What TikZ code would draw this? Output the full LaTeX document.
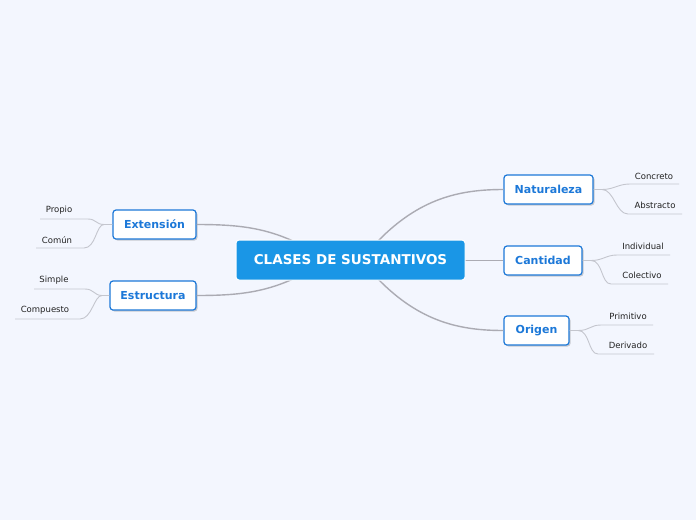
\documentclass[tikz,border=0pt]{standalone}
\usepackage{fontspec}
\setmainfont{DejaVu Sans}
\usetikzlibrary{calc}
\definecolor{bg}{HTML}{F3F6FE}
\definecolor{mainblue}{HTML}{1A96E6}
\definecolor{boxblue}{HTML}{1C78D8}
\definecolor{conn}{HTML}{ABABB3}
\definecolor{leafline}{HTML}{C4C6CE}
\definecolor{leaftext}{HTML}{222222}
\tikzset{
  central/.style={draw=white, line width=1pt, fill=mainblue, rounded corners=3pt,
    minimum width=229pt, minimum height=40pt, text=white,
    font=\fontsize{13.5}{16}\selectfont\bfseries, inner sep=0pt},
  branch/.style={draw=boxblue, line width=1.2pt, fill=white, rounded corners=3pt,
    minimum height=29pt, text=boxblue, font=\fontsize{11}{13}\selectfont\bfseries, inner sep=0pt},
  shadowbox/.style={fill=black, opacity=0.18, rounded corners=3pt},
  leaf/.style={text=leaftext, font=\fontsize{8.5}{10}\selectfont, inner sep=0pt},
  mainconn/.style={draw=conn, line width=1.4pt},
  leafconn/.style={draw=leafline, line width=0.9pt},
}
\begin{document}
\begin{tikzpicture}[x=1pt,y=-1pt]
\fill[bg] (0,0) rectangle (696,520);
\useasboundingbox (0,0) rectangle (696,520);

% main connectors (drawn first, under boxes)
\coordinate (cExt) at (293,241);
\coordinate (cEst) at (293,279);
\coordinate (cNat) at (378,241);
\coordinate (cOri) at (378,279);
\coordinate (cCan) at (464,260.5);

% shadows
\fill[shadowbox] (114.5,211.5) rectangle (197.5,240.5);
\fill[shadowbox] (111.5,282.5) rectangle (197.5,311.5);
\fill[shadowbox] (505.5,176.5) rectangle (594.5,205.5);
\fill[shadowbox] (505.5,247.5) rectangle (583.5,276.5);
\fill[shadowbox] (505.5,317.5) rectangle (570.5,346.5);

\node[branch, minimum width=83pt] (ext) at (154.5,224.5) {Extensión};
\node[branch, minimum width=86pt] (est) at (153,295.5) {Estructura};
\node[branch, minimum width=89pt] (nat) at (548.5,189.5) {Naturaleza};
\node[branch, minimum width=78pt] (can) at (543,260.5) {Cantidad};
\node[branch, minimum width=65pt] (ori) at (536.5,330.5) {Origen};

\draw[mainconn] (cExt) .. controls (262,227) and (235,224.5) .. (ext.east);
\draw[mainconn] (cEst) .. controls (262,293) and (235,295.5) .. (est.east);
\draw[mainconn] (cNat) .. controls (420,198) and (460,189.5) .. (nat.west);
\draw[mainconn] (cCan) -- (can.west);
\draw[mainconn] (cOri) .. controls (420,322) and (460,330.5) .. (ori.west);

\node[central] (c) at (350.5,260) {CLASES DE SUSTANTIVOS};

% leaves left
\node[leaf] (propio) at (59,210) {Propio};
\node[leaf] (comun) at (57,240) {Común};
\node[leaf] (simple) at (54,280) {Simple};
\node[leaf] (compuesto) at (45,310) {Compuesto};
% leaves right
\node[leaf] (concreto) at (654,176) {Concreto};
\node[leaf] (abstracto) at (655,205) {Abstracto};
\node[leaf] (individual) at (643,246) {Individual};
\node[leaf] (colectivo) at (642,275) {Colectivo};
\node[leaf] (primitivo) at (628,316) {Primitivo};
\node[leaf] (derivado) at (628,345) {Derivado};

% leaf lines left
\coordinate (jExt) at (104,224.5);
\coordinate (jEst) at (102,295.5);
\draw[leafconn] (ext.west) -- (jExt) .. controls (96,224.5) and (96,219) .. (88,219) -- (40,219);
\draw[leafconn] (jExt) .. controls (96,224.5) and (96,248) .. (84,248) -- (36,248);
\draw[leafconn] (est.west) -- (jEst) .. controls (94,295.5) and (94,289) .. (85,289) -- (34,289);
\draw[leafconn] (jEst) .. controls (94,295.5) and (92,319) .. (80,319) -- (15,319);

% leaf lines right
\coordinate (jNat) at (602,189.5);
\coordinate (jCan) at (591,260.5);
\coordinate (jOri) at (578,330.5);
\draw[leafconn] (nat.east) -- (jNat) .. controls (614,189.5) and (618,184) .. (630,184) -- (679,184);
\draw[leafconn] (jNat) .. controls (614,189.5) and (616,214) .. (628,214) -- (682,214);
\draw[leafconn] (can.east) -- (jCan) .. controls (603,260.5) and (606,255) .. (617,255) -- (670,255);
\draw[leafconn] (jCan) .. controls (603,260.5) and (601,284) .. (611,284) -- (668,284);
\draw[leafconn] (ori.east) -- (jOri) .. controls (590,330.5) and (590,325) .. (601,325) -- (653,325);
\draw[leafconn] (jOri) .. controls (590,330.5) and (588,354) .. (598,354) -- (654,354);
\end{tikzpicture}
\end{document}
